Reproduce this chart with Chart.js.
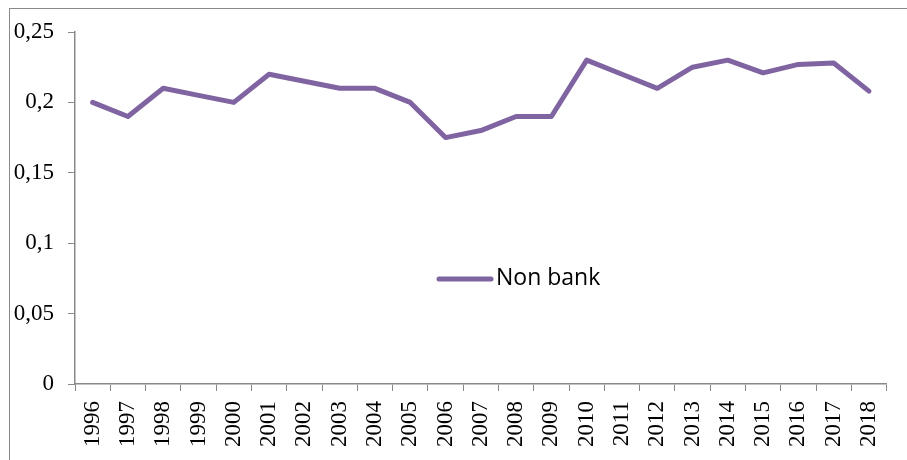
<!DOCTYPE html>
<html>
<head>
<meta charset="utf-8">
<script src="https://cdn.jsdelivr.net/npm/chart.js@4.4.0/dist/chart.umd.min.js"></script>
<style>
  html, body { margin: 0; padding: 0; background: #fff; overflow: hidden; }
  #wrap { position: relative; width: 907px; height: 460px; overflow: hidden; }
  #frame { position: absolute; left: 9px; top: 8px; width: 920px; height: 470px; border: 1px solid #898989; box-sizing: border-box; }
  canvas { position: absolute; left: 0; top: 0; }
</style>
</head>
<body>
<div id="wrap">
  <div id="frame"></div>
  <canvas id="chart" width="907" height="460"></canvas>
</div>
<script>
// data
const years = ['1996','1997','1998','1999','2000','2001','2002','2003','2004','2005','2006','2007',
               '2008','2009','2010','2011','2012','2013','2014','2015','2016','2017','2018'];
const nonBank = [0.2, 0.19, 0.21, 0.205, 0.2, 0.22, 0.215, 0.21, 0.21, 0.2, 0.175, 0.18,
                 0.19, 0.19, 0.23, 0.22, 0.21, 0.225, 0.23, 0.221, 0.227, 0.228, 0.208];
const seriesName = 'Non bank';
const yTicks = [0, 0.05, 0.1, 0.15, 0.2, 0.25];

const purple = '#8064A2';
const axisGray = '#898989';
const tickFont = { family: '"Liberation Serif", "Times New Roman", serif', size: 23 };

// legend drawn inside the plot, like the original
const innerLegend = {
  id: 'innerLegend',
  afterDraw(chart) {
    const ctx = chart.ctx;
    const ds = chart.data.datasets[0];
    ctx.save();
    ctx.strokeStyle = ds.borderColor;
    ctx.lineWidth = 5;
    ctx.lineCap = 'round';
    ctx.beginPath();
    ctx.moveTo(439, 279);
    ctx.lineTo(491, 279);
    ctx.stroke();
    ctx.fillStyle = '#000';
    ctx.font = '23px "Open Sans", sans-serif';
    ctx.textBaseline = 'middle';
    ctx.fillText(ds.label, 496, 278);
    ctx.restore();
  }
};

new Chart(document.getElementById('chart'), {
  type: 'line',
  data: {
    labels: years,
    datasets: [{
      label: seriesName,
      data: nonBank,
      borderColor: purple,
      backgroundColor: purple,
      borderWidth: 5,
      pointRadius: 0,
      tension: 0,
      borderCapStyle: 'round',
      borderJoinStyle: 'round'
    }]
  },
  options: {
    responsive: false,
    animation: false,
    layout: { padding: { top: 32, right: 19, left: 0, bottom: 0 } },
    plugins: { legend: { display: false }, tooltip: { enabled: false } },
    scales: {
      x: {
        offset: true,
        grid: { display: true, drawOnChartArea: false, offset: true, tickLength: 7, color: axisGray },
        border: { color: axisGray, width: 1.5 },
        ticks: { color: '#000', font: tickFont, minRotation: 90, maxRotation: 90, padding: 10, autoSkip: false },
        afterFit(s) { s.height = 76; }
      },
      y: {
        min: 0,
        max: 0.25,
        afterBuildTicks(s) { s.ticks = yTicks.map(v => ({ value: v })); },
        grid: { display: true, drawOnChartArea: false, tickLength: 7, color: axisGray },
        border: { color: axisGray, width: 1.5 },
        ticks: {
          color: '#000',
          font: tickFont,
          padding: 14,
          callback: v => String(v).replace('.', ',')
        },
        afterFit(s) { s.width = 75; }
      }
    }
  },
  plugins: [innerLegend]
});
</script>
</body>
</html>
